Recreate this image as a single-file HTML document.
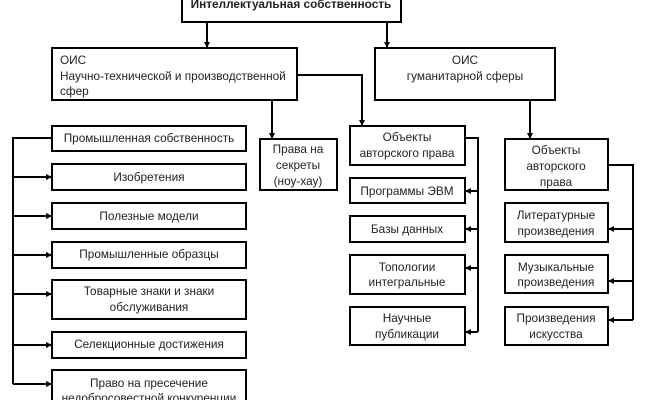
<!DOCTYPE html>
<html><head><meta charset="utf-8"><style>
html,body{margin:0;padding:0;background:#fff;}
svg text{font-family:"Liberation Sans",sans-serif;font-size:11.8px;fill:#222;}
</style></head><body>
<svg width="650" height="400" viewBox="0 0 650 400" xmlns="http://www.w3.org/2000/svg">
<defs><marker id="a" markerWidth="6" markerHeight="6" refX="5" refY="3" orient="auto" markerUnits="userSpaceOnUse"><path d="M0,0 L6,3 L0,6 z" fill="#000"/></marker></defs>
<g fill="#fff" stroke="#000" stroke-width="2">
<rect x="182" y="-5" width="219" height="27"/>
<rect x="52" y="48" width="245" height="52"/>
<rect x="375" y="48" width="180" height="52"/>
<rect x="260" y="139" width="77" height="51"/>
<rect x="350" y="126" width="115" height="39"/>
<rect x="350" y="178" width="115" height="25"/>
<rect x="350" y="216" width="115" height="26"/>
<rect x="350" y="255" width="115" height="39"/>
<rect x="350" y="307" width="115" height="38"/>
<rect x="505" y="139" width="103" height="51"/>
<rect x="505" y="203" width="103" height="39"/>
<rect x="505" y="255" width="103" height="38"/>
<rect x="505" y="307" width="103" height="38"/>
<rect x="52" y="126" width="194" height="25"/>
<rect x="52" y="164" width="194" height="26"/>
<rect x="52" y="203" width="194" height="26"/>
<rect x="52" y="242" width="194" height="26"/>
<rect x="52" y="280" width="194" height="39"/>
<rect x="52" y="332" width="194" height="26"/>
<rect x="52" y="370" width="194" height="40"/>
</g>
<g fill="none" stroke="#000" stroke-width="2">
<path d="M207 22V47" marker-end="url(#a)"/>
<path d="M387 22V47" marker-end="url(#a)"/>
<path d="M297 75H362V125" marker-end="url(#a)"/>
<path d="M272 100V138" marker-end="url(#a)"/>
<path d="M530 100V138" marker-end="url(#a)"/>
<path d="M465 138H478V332"/>
<path d="M478 191H466" marker-end="url(#a)"/>
<path d="M478 229H466" marker-end="url(#a)"/>
<path d="M478 268H466" marker-end="url(#a)"/>
<path d="M478 332H466" marker-end="url(#a)"/>
<path d="M608 165H633V320"/>
<path d="M633 229H609" marker-end="url(#a)"/>
<path d="M633 281H609" marker-end="url(#a)"/>
<path d="M633 320H609" marker-end="url(#a)"/>
<path d="M52 138H13V384"/>
<path d="M13 177H51" marker-end="url(#a)"/>
<path d="M13 216H51" marker-end="url(#a)"/>
<path d="M13 255H51" marker-end="url(#a)"/>
<path d="M13 294H51" marker-end="url(#a)"/>
<path d="M13 345H51" marker-end="url(#a)"/>
<path d="M13 384H51" marker-end="url(#a)"/>
</g>
<text x="291" y="8" text-anchor="middle" style="font-weight:bold">Интеллектуальная собственность</text>
<text x="60" y="64">ОИС</text>
<text x="60" y="80">Научно-технической и производственной</text>
<text x="60" y="95">сфер</text>
<g text-anchor="middle">
<text x="465" y="64">ОИС</text>
<text x="465" y="80">гуманитарной сферы</text>
<text x="298" y="153">Права на</text>
<text x="298" y="169">секреты</text>
<text x="298" y="185">(ноу-хау)</text>
<text x="407" y="141">Объекты</text>
<text x="407" y="157">авторского права</text>
<text x="407" y="195">Программы ЭВМ</text>
<text x="407" y="233">Базы данных</text>
<text x="407" y="271">Топологии</text>
<text x="407" y="286">интегральные</text>
<text x="407" y="322">Научные</text>
<text x="407" y="338">публикации</text>
<text x="556" y="154">Объекты</text>
<text x="556" y="170">авторского</text>
<text x="556" y="186">права</text>
<text x="556" y="219">Литературные</text>
<text x="556" y="235">произведения</text>
<text x="556" y="271">Музыкальные</text>
<text x="556" y="286">произведения</text>
<text x="556" y="322">Произведения</text>
<text x="556" y="338">искусства</text>
<text x="149" y="142">Промышленная собственность</text>
<text x="149" y="181">Изобретения</text>
<text x="149" y="220">Полезные модели</text>
<text x="149" y="258">Промышленные образцы</text>
<text x="149" y="295">Товарные знаки и знаки</text>
<text x="149" y="311">обслуживания</text>
<text x="149" y="348">Селекционные достижения</text>
<text x="149" y="387">Право на пресечение</text>
<text x="149" y="402">недобросовестной конкуренции</text>
</g>
</svg>
</body></html>
